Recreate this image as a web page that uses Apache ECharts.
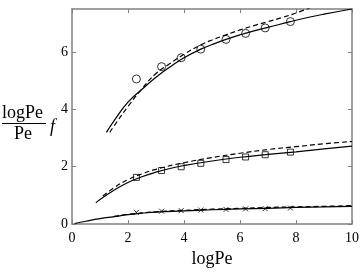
<!DOCTYPE html>
<html><head><meta charset="utf-8">
<script src="https://cdn.jsdelivr.net/npm/echarts@6/dist/echarts.min.js"></script>
<style>html,body{margin:0;padding:0;background:#fff}#c{width:362px;height:273px}</style>
</head><body><div id="c"></div>
<script>
// Data
const xTicks = [0, 2, 4, 6, 8, 10];
const yTicks = [0, 2, 4, 6];
const ptX = [2.3, 3.2, 3.9, 4.6, 5.5, 6.2, 6.9, 7.8];
const circleY = [5.06, 5.49, 5.80, 6.10, 6.44, 6.65, 6.84, 7.06];
const squareY = [1.63, 1.87, 2.00, 2.12, 2.25, 2.34, 2.42, 2.51];
const crossY = [0.41, 0.45, 0.47, 0.49, 0.51, 0.53, 0.54, 0.56];

const upperSolidX = [1.23, 1.5, 2, 2.5, 3, 3.5, 4, 4.6, 5, 5.5, 6, 6.5, 7, 7.8, 8.5, 9, 10];
const upperSolidY = [3.2, 3.6, 4.25, 4.7, 5.12, 5.48, 5.8, 6.1, 6.26, 6.44, 6.6, 6.74, 6.86, 7.06, 7.22, 7.32, 7.5];
const upperDashX = [1.35, 1.5, 2, 2.5, 3, 3.5, 4, 4.6, 5, 5.5, 6, 6.5, 7, 7.5, 8, 8.6];
const upperDashY = [3.2, 3.42, 4.1, 4.72, 5.25, 5.6, 5.92, 6.25, 6.42, 6.6, 6.77, 6.92, 7.06, 7.2, 7.36, 7.58];
const midSolidX = [0.85, 1, 1.5, 2, 2.5, 3, 3.5, 4, 5, 6, 7, 8, 9, 10];
const midSolidY = [0.74, 0.86, 1.18, 1.45, 1.65, 1.81, 1.94, 2.04, 2.2, 2.33, 2.43, 2.52, 2.62, 2.72];
const midDashX = [1.1, 1.5, 2, 2.5, 3, 4, 5, 6, 7, 8, 9, 10];
const midDashY = [0.98, 1.27, 1.55, 1.75, 1.91, 2.14, 2.32, 2.47, 2.6, 2.7, 2.8, 2.88];
const lowSolidX = [0.1, 0.5, 1, 1.5, 2, 2.5, 3, 4, 5, 6, 7, 8, 9, 10];
const lowSolidY = [0.02, 0.1, 0.19, 0.26, 0.33, 0.38, 0.42, 0.46, 0.5, 0.53, 0.55, 0.58, 0.6, 0.62];
const lowDashX = [1.5, 2, 3, 4, 5, 6, 7, 8, 9, 10];
const lowDashY = [0.27, 0.34, 0.43, 0.48, 0.52, 0.55, 0.58, 0.6, 0.62, 0.645];

const zip = (a, b) => a.map((v, i) => [v, b[i]]);
const FONT = 'Liberation Serif';
const frame = '#808080';

function lineSeries(xs, ys, dashed) {
  return { type: 'line', data: zip(xs, ys), smooth: true, showSymbol: false, clip: true,
    lineStyle: { color: '#000', width: 1.2, type: dashed ? [5, 3] : 'solid' }, z: 3, silent: true };
}
function markSeries(ys, symbol, size) {
  return { type: 'scatter', data: zip(ptX, ys), symbol: symbol, symbolSize: size,
    itemStyle: { color: 'rgba(0,0,0,0)', borderColor: '#000', borderWidth: 1 }, z: 4, silent: true };
}
const axLine = { show: true, onZero: false, lineStyle: { color: frame, width: 1.5 } };
const axTick = { show: true, inside: true, length: 4, lineStyle: { color: frame } };

const chart = echarts.init(document.getElementById('c'));
chart.setOption({
  animation: false,
  grid: { left: 72, right: 9, top: 9, bottom: 42 },
  xAxis: [
    { type: 'value', min: 0, max: 10, interval: 2, position: 'bottom',
      name: 'logPe', nameLocation: 'middle', nameGap: 22,
      nameTextStyle: { fontFamily: FONT, fontSize: 18, color: '#000' },
      axisLine: axLine, axisTick: axTick,
      axisLabel: { fontFamily: FONT, fontSize: 14, color: '#000', margin: 7,
        formatter: v => xTicks.includes(v) ? String(v) : '' },
      splitLine: { show: false } },
    { type: 'value', min: 0, max: 10, interval: 2, position: 'top',
      axisLine: axLine, axisTick: axTick,
      axisLabel: { show: false }, splitLine: { show: false } }
  ],
  yAxis: [
    { type: 'value', min: 0, max: 7.5, interval: 2, position: 'left',
      axisLine: axLine, axisTick: axTick,
      axisLabel: { fontFamily: FONT, fontSize: 14, color: '#000', margin: 4, showMaxLabel: false,
        formatter: v => yTicks.includes(v) ? String(v) : '' },
      splitLine: { show: false } },
    { type: 'value', min: 0, max: 7.5, interval: 2, position: 'right',
      axisLine: axLine, axisTick: axTick,
      axisLabel: { show: false }, splitLine: { show: false } }
  ],
  graphic: [
    { type: 'text', left: 2, top: 104, style: { text: 'logPe', font: '18px "' + FONT + '"', fill: '#000' } },
    { type: 'line', shape: { x1: 2, y1: 123.5, x2: 46, y2: 123.5 }, style: { stroke: '#000', lineWidth: 1 } },
    { type: 'text', left: 14, top: 125, style: { text: 'Pe', font: '18px "' + FONT + '"', fill: '#000' } },
    { type: 'text', left: 50, top: 118, style: { text: 'f', font: 'italic 18px "' + FONT + '"', fill: '#000' } }
  ],
  series: [
    lineSeries(upperSolidX, upperSolidY, false),
    lineSeries(upperDashX, upperDashY, true),
    lineSeries(midSolidX, midSolidY, false),
    lineSeries(midDashX, midDashY, true),
    lineSeries(lowSolidX, lowSolidY, false),
    lineSeries(lowDashX, lowDashY, true),
    markSeries(circleY, 'circle', 8),
    markSeries(squareY, 'rect', 6),
    markSeries(crossY, 'path://M0,0L10,10M10,0L0,10', 5)
  ]
});
</script></body></html>
